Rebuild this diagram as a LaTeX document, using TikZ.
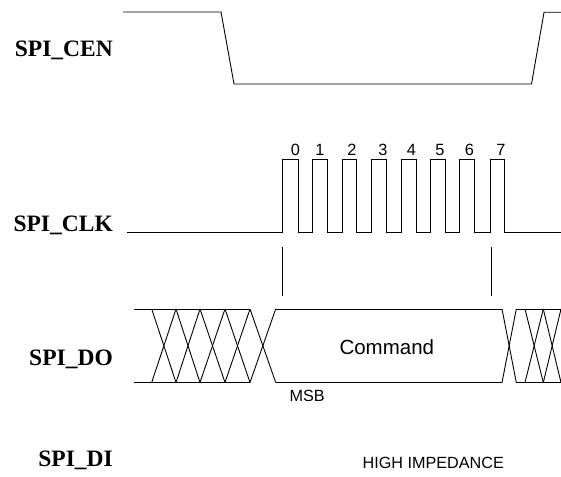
\documentclass[tikz,border=0pt]{standalone}
\usepackage{fontspec}
\newfontfamily\sigfont{Liberation Serif}
\newfontfamily\txtfont{Liberation Sans}
\tikzset{
  sig/.style={line width=0.9pt},
  signame/.style={font=\sigfont\bfseries\fontsize{23.5}{26}\selectfont, anchor=base east, inner sep=0pt},
  bitno/.style={font=\txtfont\fontsize{16.3}{18}\selectfont, anchor=base, inner sep=0pt},
  note/.style={font=\txtfont\fontsize{16.2}{18}\selectfont, inner sep=0pt}
}
\begin{document}
\begin{tikzpicture}[x=1pt,y=-1pt]
  \useasboundingbox (0,0) rectangle (561,476);
% signal names

  \node [signame] (cen) at (113,56.7) {SPI\_CEN};
  \node [signame] (clk) at (113,231.7) {SPI\_CLK};
  \node [signame] (do) at (113,365) {SPI\_DO};
  \node [signame] (di) at (113,466) {SPI\_DI};

% SPI_CEN

  \draw [sig] (123,12) -- (221,12) -- (234,84) -- (531.5,84) -- (544,12.3) -- (561,12.3);

% SPI_CLK, eight pulses

  \draw [sig] (127,232) -- (282.7,232) -- (282.7,159.3) -- (298.3,159.3) -- (298.3,232)
    -- (312.3,232) -- (312.3,159.3) -- (327.7,159.3) -- (327.7,232)
    -- (342.3,232) -- (342.3,159.3) -- (356.7,159.3) -- (356.7,232)
    -- (371.7,232) -- (371.7,159.3) -- (386.7,159.3) -- (386.7,232)
    -- (401.7,232) -- (401.7,159.3) -- (416,159.3) -- (416,232)
    -- (430.7,232) -- (430.7,159.3) -- (445,159.3) -- (445,232)
    -- (459.3,232) -- (459.3,159.3) -- (474.3,159.3) -- (474.3,232)
    -- (490,232) -- (490,159.3) -- (504.3,159.3) -- (504.3,232) -- (561,232);
  \node [bitno] (b0) at (295.5,155) {0};  \node [bitno] (b1) at (320,155) {1};
  \node [bitno] (b2) at (352,155) {2};    \node [bitno] (b3) at (383,155) {3};
  \node [bitno] (b4) at (411.5,155) {4};  \node [bitno] (b5) at (440,155) {5};
  \node [bitno] (b6) at (469.5,155) {6};  \node [bitno] (b7) at (501,155) {7};

  \draw (281.7,247) -- (281.7,296);
  \draw (491,247) -- (491,296);

% SPI_DO, unknown data before and after the command

  \draw [sig] (134,309) -- (250,309);  \draw [sig] (134,382.5) -- (250,382.5);
  \draw [sig] (151.7,309) -- (176,382.5); \draw [sig] (151.7,382.5) -- (176,309);
  \draw [sig] (176,309) -- (200,382.5);   \draw [sig] (176,382.5) -- (200,309);
  \draw [sig] (200,309) -- (225,382.5);   \draw [sig] (200,382.5) -- (225,309);
  \draw [sig] (225,309) -- (250,382.5);   \draw [sig] (225,382.5) -- (250,309);
  \draw [sig] (250,309) -- (275.7,382.5); \draw [sig] (250,382.5) -- (275.7,309);

  \draw [sig] (275.7,309) -- (502,309);  \draw [sig] (275.7,382.5) -- (502,382.5);
  \node [note, font=\txtfont\fontsize{20.5}{22}\selectfont, anchor=base] (cmd) at (386.8,354.3) {Command};
  \node [note, anchor=base west] (msb) at (289.3,401.7) {MSB};

  \draw [sig] (502,309) -- (516.3,382.5); \draw [sig] (502,382.5) -- (516.3,309);
  \draw [sig] (516.3,309) -- (561,309);  \draw [sig] (516.3,382.5) -- (561,382.5);
  \draw [sig] (525,309) -- (543.3,382.5); \draw [sig] (525,382.5) -- (543.3,309);
  \draw [sig] (543.3,309) -- (561,382.5); \draw [sig] (543.3,382.5) -- (561,309);

% SPI_DI

  \node [note, anchor=base] (hiz) at (433.3,468.3) {HIGH IMPEDANCE};
\end{tikzpicture}
\end{document}
